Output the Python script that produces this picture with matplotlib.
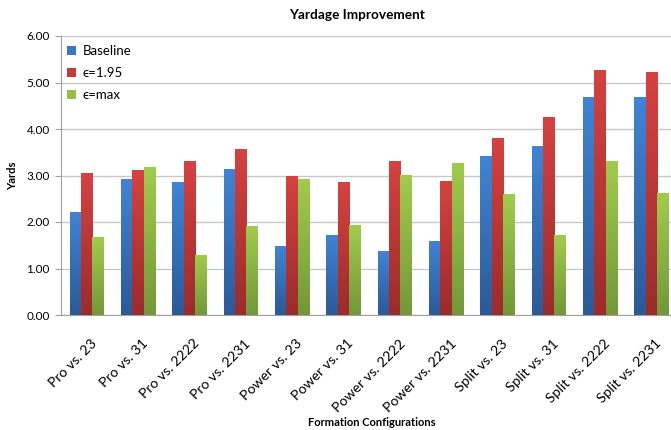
import numpy as np
import matplotlib
matplotlib.use("Agg")
import matplotlib.pyplot as plt
import matplotlib.transforms as mtransforms
from matplotlib.colors import LinearSegmentedColormap

plt.rcParams['font.family'] = ['Lato', 'DejaVu Sans']

categories = ["Pro vs. 23", "Pro vs. 31", "Pro vs. 2222", "Pro vs. 2231",
              "Power vs. 23", "Power vs. 31", "Power vs. 2222", "Power vs. 2231",
              "Split vs. 23", "Split vs. 31", "Split vs. 2222", "Split vs. 2231"]
baseline = [2.22, 2.92, 2.85, 3.13, 1.48, 1.73, 1.38, 1.60, 3.42, 3.63, 4.69, 4.69]
eps_195 = [3.06, 3.11, 3.32, 3.57, 2.99, 2.86, 3.31, 2.88, 3.81, 4.26, 5.27, 5.22]
eps_max = [1.68, 3.18, 1.30, 1.91, 2.93, 1.93, 3.01, 3.27, 2.60, 1.73, 3.32, 2.63]
series_names = ["Baseline", "\u03f5=1.95", "\u03f5=max"]

# (legend colour, gradient top, gradient bottom)
colors = [("#3b78c4", "#3f84d6", "#2b5a98"),
          ("#c43b3a", "#d64240", "#9c2b2a"),
          ("#95c048", "#a0cc4c", "#739838")]

fig = plt.figure(figsize=(6.71, 4.30), dpi=100)
ax = fig.add_axes([61 / 671, 1 - 315 / 430, 616 / 671, 279 / 430])

x = np.arange(len(categories))
w = 0.22
grad = np.linspace(0, 1, 100).reshape(-1, 1)

for k, vals in enumerate([baseline, eps_195, eps_max]):
    base, top, bottom = colors[k]
    bars = ax.bar(x + (k - 1) * w, vals, w, color=base, label=series_names[k],
                  zorder=2, linewidth=0)
    cmap = LinearSegmentedColormap.from_list("g%d" % k, [bottom, top])
    for b in bars:
        bx, by = b.get_x(), b.get_y()
        im = ax.imshow(grad, extent=[bx, bx + b.get_width(), by, by + b.get_height()],
                       origin="lower", aspect="auto", cmap=cmap, zorder=3)
        im.set_clip_path(b)

ax.set_xlim(-0.5, len(categories) - 0.5)
ax.set_ylim(0, 6)
ax.set_yticks(np.arange(0, 6.01, 1))
ax.set_yticklabels(["%.2f" % v for v in np.arange(0, 6.01, 1)], fontsize=8.5)
ax.yaxis.grid(True, color="#c8c8c8", linewidth=1)
ax.set_axisbelow(True)

ax.set_xticks(x)
ax.set_xticklabels(categories, rotation=45, ha="right", rotation_mode="anchor",
                   fontsize=10.2)
ax.tick_params(axis="x", length=0, pad=16)
ax.tick_params(axis="y", length=4, color="#a0a0a0", pad=4)
shift = mtransforms.ScaledTranslation(4 / 100, 0, fig.dpi_scale_trans)
for lbl in ax.get_xticklabels():
    lbl.set_transform(lbl.get_transform() + shift)

for s in ["top", "right"]:
    ax.spines[s].set_visible(False)
ax.spines["left"].set_color("#a0a0a0")
ax.spines["bottom"].set_color("#a0a0a0")

ax.set_ylabel("Yards", fontsize=8, fontweight="bold", labelpad=6)
fig.text(372 / 671, 1 - 423 / 430, "Formation Configurations", fontsize=8,
         fontweight="bold", ha="center", va="center")
fig.text(357 / 671, 1 - 15 / 430, "Yardage Improvement", fontsize=9.8,
         fontweight="bold", ha="center", va="center")

ax.legend(loc="upper left", frameon=False, fontsize=9.5, handlelength=0.7,
          handleheight=0.7, labelspacing=0.75, handletextpad=0.45,
          bbox_to_anchor=(-0.005, 1.0), borderaxespad=0.3)

fig.savefig("out.png", dpi=100)
